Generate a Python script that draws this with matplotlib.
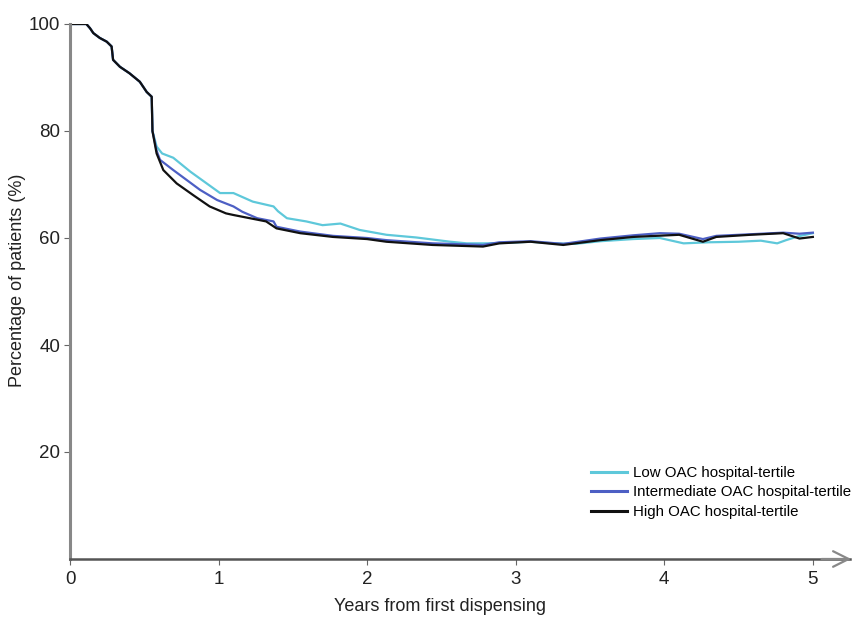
import matplotlib
matplotlib.use("Agg")
import matplotlib.pyplot as plt

plt.rcParams['font.family'] = ['Liberation Sans', 'DejaVu Sans']

# Shared early part (years, percent)
early_x = [0.0, 0.11, 0.135, 0.157, 0.20, 0.247, 0.28, 0.29, 0.336, 0.40, 0.47, 0.516, 0.55, 0.555]
early_y = [100.0, 100.0, 99.2, 98.3, 97.4, 96.7, 95.8, 93.3, 92.0, 90.8, 89.2, 87.3, 86.4, 80.0]

low_x = early_x + [0.583, 0.62, 0.695, 0.81, 0.92, 1.01, 1.10, 1.23, 1.37, 1.40, 1.46, 1.59, 1.70, 1.82,
                   1.95, 2.13, 2.33, 2.56, 2.67, 2.80, 2.95, 3.10, 3.25, 3.40, 3.57, 3.79, 3.97, 4.13,
                   4.30, 4.50, 4.65, 4.76, 4.82, 4.90, 5.00]
low_y = early_y + [77.1, 75.8, 75.0, 72.4, 70.2, 68.4, 68.4, 66.8, 65.9, 65.0, 63.7, 63.1, 62.4, 62.7,
                   61.5, 60.6, 60.1, 59.3, 59.0, 59.0, 59.1, 59.3, 59.0, 58.9, 59.4, 59.8, 60.0, 59.0,
                   59.2, 59.3, 59.5, 59.0, 59.6, 60.3, 60.9]

mid_x = early_x + [0.583, 0.606, 0.695, 0.875, 0.99, 1.10, 1.16, 1.26, 1.37, 1.39, 1.55, 1.77, 2.00,
                   2.13, 2.44, 2.78, 2.89, 3.10, 3.32, 3.57, 3.79, 3.97, 4.10, 4.26, 4.35, 4.58,
                   4.80, 4.91, 5.00]
mid_y = early_y + [76.3, 74.6, 72.7, 69.0, 67.1, 65.9, 64.9, 63.7, 63.1, 62.1, 61.2, 60.4, 60.0,
                   59.6, 59.0, 58.7, 59.2, 59.4, 58.9, 59.9, 60.5, 60.9, 60.8, 59.8, 60.4, 60.7,
                   61.0, 60.8, 61.0]

high_x = early_x + [0.583, 0.628, 0.718, 0.83, 0.94, 1.05, 1.10, 1.32, 1.39, 1.55, 1.77, 2.00, 2.13,
                    2.44, 2.78, 2.89, 3.10, 3.32, 3.57, 3.79, 4.10, 4.26, 4.35, 4.58, 4.80, 4.91, 5.00]
high_y = early_y + [75.8, 72.7, 70.2, 68.0, 65.9, 64.6, 64.3, 63.1, 61.8, 60.9, 60.2, 59.8, 59.3,
                    58.7, 58.4, 59.0, 59.3, 58.7, 59.6, 60.2, 60.6, 59.3, 60.2, 60.6, 60.9, 59.9, 60.2]

series_labels = ["Low OAC hospital-tertile", "Intermediate OAC hospital-tertile", "High OAC hospital-tertile"]
series_colors = ["#5ec8da", "#4d5fc4", "#111111"]

x_ticks = [0, 1, 2, 3, 4, 5]
y_ticks = [20, 40, 60, 80, 100]

fig = plt.figure(figsize=(8.57, 6.18), dpi=100)
ax = fig.add_axes([70/857, 59/618, 780/857, 535/618])

for xs, ys, lab, col in zip([low_x, mid_x, high_x], [low_y, mid_y, high_y], series_labels, series_colors):
    ax.plot(xs, ys, color=col, lw=1.6, label=lab)

ax.set_xlim(0, 5.25)
ax.set_ylim(0, 100)
ax.set_xticks(x_ticks)
ax.set_yticks(y_ticks)
ax.tick_params(axis='both', labelsize=13.5, length=4, color='#666666', labelcolor='#222222')
ax.tick_params(axis='x', pad=5)
ax.tick_params(axis='y', pad=3)

for s in ['top', 'right']:
    ax.spines[s].set_visible(False)
ax.spines['left'].set_color('#888888')
ax.spines['left'].set_linewidth(2.2)
ax.spines['bottom'].set_color('#555555')
ax.spines['bottom'].set_linewidth(1.8)

ax.annotate('', xy=(1.005, 0), xytext=(0.96, 0), xycoords='axes fraction',
            arrowprops=dict(arrowstyle='->', color='#888888', lw=1.6, mutation_scale=28),
            annotation_clip=False)

ax.set_xlabel("Years from first dispensing", fontsize=13, color='#222222')
ax.set_ylabel("Percentage of patients (%)", fontsize=13, color='#222222')
ax.xaxis.set_label_coords((440 - 70) / 780, -0.072)
ax.yaxis.set_label_coords(-0.056, 0.52)

leg = ax.legend(loc='upper left', bbox_to_anchor=(591/857, 1 - 466/618), bbox_transform=fig.transFigure,
                frameon=False, fontsize=10.8, handlelength=2.4, handletextpad=0.4, labelspacing=0.36,
                borderaxespad=0, borderpad=0)
for line in leg.get_lines():
    line.set_linewidth(2.2)

fig.savefig("out.png", dpi=100)
